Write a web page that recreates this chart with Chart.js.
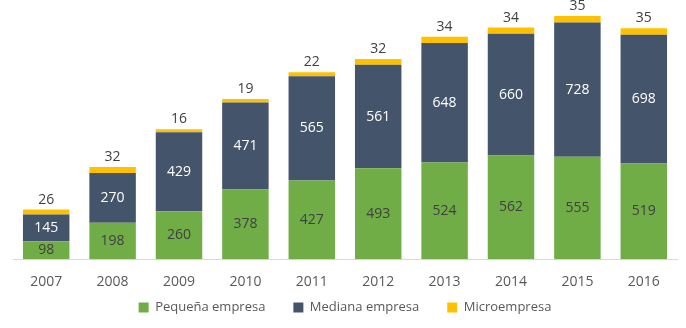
<!DOCTYPE html>
<html>
<head>
<meta charset="utf-8">
<script src="https://cdn.jsdelivr.net/npm/chart.js@4/dist/chart.umd.min.js"></script>
<style>
  html, body { margin: 0; padding: 0; background: #fff; }
  .chart-container { width: 686px; height: 328px; }
</style>
</head>
<body>
<div class="chart-container"><canvas id="chart"></canvas></div>
<script>
const years = ['2007', '2008', '2009', '2010', '2011', '2012', '2013', '2014', '2015', '2016'];
const pequena = [98, 198, 260, 378, 427, 493, 524, 562, 555, 519];
const mediana = [145, 270, 429, 471, 565, 561, 648, 660, 728, 698];
const micro = [26, 32, 16, 19, 22, 32, 34, 34, 35, 35];

// draws the numbers on / above the bars
const barLabels = {
    id: 'barLabels',
    afterDatasetsDraw(chart) {
        const ctx = chart.ctx;
        ctx.save();
        ctx.font = '14px "Open Sans", sans-serif';
        ctx.textAlign = 'center';
        ctx.textBaseline = 'middle';
        chart.data.datasets.forEach((ds, i) => {
            const meta = chart.getDatasetMeta(i);
            meta.data.forEach((bar, j) => {
                const v = ds.data[j];
                if (i === 2) {
                    ctx.fillStyle = '#404040';
                    ctx.fillText(v, bar.x, bar.y - 10);
                } else {
                    ctx.fillStyle = i === 1 ? '#ffffff' : '#404040';
                    ctx.fillText(v, bar.x, (bar.y + bar.base) / 2);
                }
            });
        });
        ctx.restore();
    }
};

// legend padding is wide for the item spacing, so pull its top up a bit
const legendShift = {
    id: 'legendShift',
    afterLayout(chart) {
        chart.legend.top -= 23;
    }
};

new Chart(document.getElementById('chart'), {
    type: 'bar',
    data: {
        labels: years,
        datasets: [
            { label: 'Pequeña empresa', data: pequena, backgroundColor: '#70AD47' },
            { label: 'Mediana empresa', data: mediana, backgroundColor: '#44546A' },
            { label: 'Microempresa', data: micro, backgroundColor: '#FFC000' }
        ]
    },
    options: {
        responsive: true,
        maintainAspectRatio: false,
        animation: false,
        layout: { padding: { left: 13, right: 9, top: 1, bottom: 0 } },
        datasets: { bar: { categoryPercentage: 1, barPercentage: 0.7 } },
        scales: {
            x: {
                stacked: true,
                grid: { display: false },
                border: { color: '#d9d9d9', width: 1 },
                ticks: { color: '#595959', font: { family: '"Open Sans", sans-serif', size: 14 }, padding: 6 }
            },
            y: {
                stacked: true,
                display: false,
                min: 0,
                max: 1400
            }
        },
        plugins: {
            legend: {
                position: 'bottom',
                maxHeight: 32,
                labels: {
                    color: '#595959',
                    font: { family: '"Open Sans", sans-serif', size: 13 },
                    boxWidth: 10,
                    boxHeight: 10,
                    padding: 28
                }
            },
            tooltip: { enabled: false }
        }
    },
    plugins: [barLabels, legendShift]
});
</script>
</body>
</html>
